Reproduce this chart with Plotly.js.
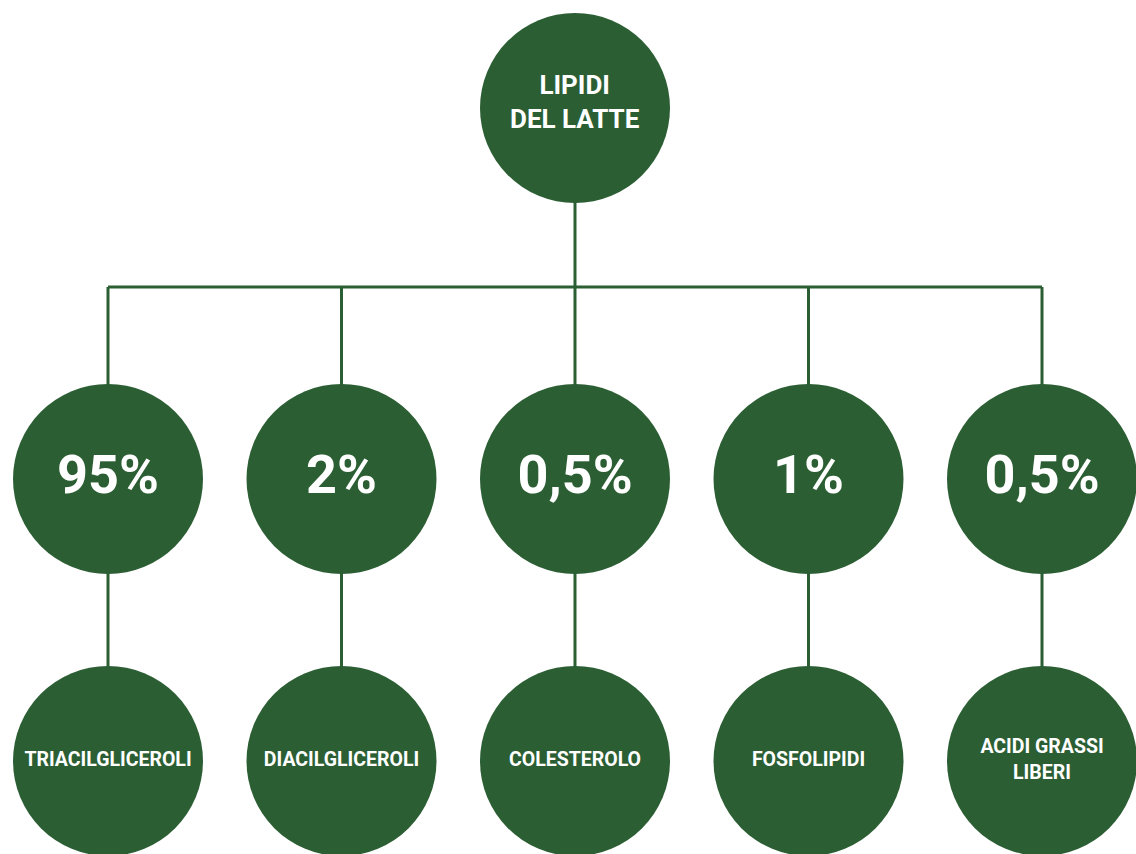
<!DOCTYPE html>
<html>
<head>
<meta charset="utf-8">
<script src="https://cdn.plot.ly/plotly-3.0.1.min.js"></script>
<style>html,body{margin:0;padding:0;background:#fff;}#chart{width:1136px;height:854px;}</style>
</head>
<body>
<div id="chart"></div>
<script>
// ---- data ----
const rootLabel = "LIPIDI<br>DEL LATTE";
const categories = ["TRIACILGLICEROLI", "DIACILGLICEROLI", "COLESTEROLO", "FOSFOLIPIDI", "ACIDI GRASSI<br>LIBERI"];
const percentLabels = ["95%", "2%", "0,5%", "1%", "0,5%"];

// ---- layout constants (pixel rows on a reversed y axis) ----
const GREEN = "#2b5e33";
const Y_ROOT = 108, Y_BUS = 287, Y_PCT = 479, Y_NAME = 761;
const idx = categories.map((_, i) => i);
const rootX = (idx.length - 1) / 2;

// connectors
const lx = [], ly = [];
lx.push(rootX, rootX, null); ly.push(Y_ROOT, Y_BUS, null);
lx.push(0, idx.length - 1, null); ly.push(Y_BUS, Y_BUS, null);
idx.forEach(i => { lx.push(i, i, null); ly.push(Y_BUS, Y_NAME, null); });

const font = {family: "Roboto, 'Noto Sans', sans-serif", color: "#ffffff", weight: 700};

const traces = [
  {x: lx, y: ly, mode: "lines", line: {color: GREEN, width: 3}, hoverinfo: "skip", showlegend: false},
  {x: [rootX], y: [Y_ROOT], mode: "markers",
   marker: {size: 190, color: GREEN, line: {width: 0}}, hoverinfo: "skip", showlegend: false},
  {x: idx, y: idx.map(() => Y_PCT), mode: "markers+text", text: percentLabels, textposition: "middle center",
   textfont: Object.assign({}, font, {size: 54}),
   marker: {size: 190, color: GREEN, line: {width: 0}}, hoverinfo: "skip", showlegend: false},
  {x: idx, y: idx.map(() => Y_NAME), mode: "markers+text", text: categories, textposition: "middle center",
   textfont: Object.assign({}, font, {size: 19.5}),
   marker: {size: 190, color: GREEN, line: {width: 0}}, hoverinfo: "skip", showlegend: false}
];

const W = 1136, H = 854, X0 = 108, DX = 233.5;
const layout = {
  width: W, height: H,
  margin: {l: 0, r: 0, t: 0, b: 0},
  paper_bgcolor: "#ffffff", plot_bgcolor: "#ffffff",
  xaxis: {range: [-X0 / DX, (W - X0) / DX], visible: false, fixedrange: true},
  yaxis: {range: [H, 0], visible: false, fixedrange: true},
  showlegend: false,
  annotations: [{x: rootX, y: Y_ROOT, xref: "x", yref: "y", text: rootLabel, showarrow: false,
    yshift: 6, font: Object.assign({}, font, {size: 26})}]
};
Plotly.newPlot("chart", traces, layout, {displayModeBar: false, staticPlot: true});
</script>
</body>
</html>
